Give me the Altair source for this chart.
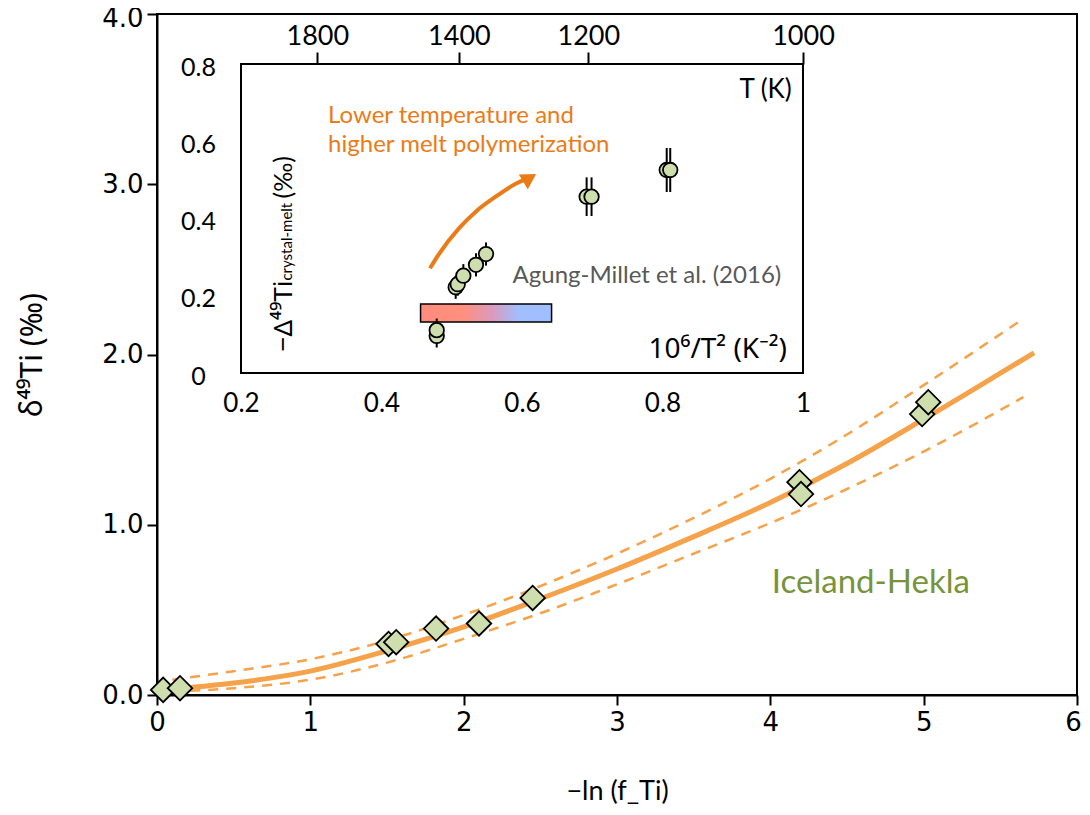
import altair as alt
import pandas as pd

# ---------------- main panel data (Iceland-Hekla) ----------------
hekla_x = [0.04, 0.15, 1.51, 1.56, 1.82, 2.10, 2.45, 4.19, 4.20, 4.99, 5.03]
hekla_y = [0.03, 0.04, 0.30, 0.31, 0.39, 0.42, 0.57, 1.25, 1.18, 1.65, 1.72]

fit_x = [0.04, 0.5, 1.0, 1.5, 2.0, 2.5, 3.0, 3.5, 4.0, 4.5, 5.0, 5.5, 5.72]
fit_y = [0.03, 0.07, 0.14, 0.26, 0.40, 0.565, 0.74, 0.93, 1.13, 1.36, 1.62, 1.89, 2.01]

upper_x = [0.1, 0.5, 1.0, 1.5, 2.0, 2.5, 3.0, 3.5, 4.0, 4.5, 5.0, 5.65]
upper_y = [0.09, 0.14, 0.21, 0.32, 0.47, 0.64, 0.83, 1.04, 1.27, 1.53, 1.82, 2.21]

lower_x = [0.1, 0.5, 1.0, 1.5, 2.0, 2.5, 3.0, 3.5, 4.0, 4.5, 5.0, 5.65]
lower_y = [0.02, 0.04, 0.09, 0.19, 0.33, 0.48, 0.65, 0.83, 1.01, 1.21, 1.43, 1.75]

main_x_ticks = [0, 1, 2, 3, 4, 5, 6]
main_y_ticks = [0.0, 1.0, 2.0, 3.0, 4.0]

# ---------------- inset data (Agung-Millet et al. 2016) ----------------
amt_x = [0.4786, 0.4786, 0.5056, 0.5085, 0.5165, 0.5345, 0.5488, 0.692, 0.699, 0.806, 0.811]
amt_y = [0.096, 0.111, 0.222, 0.230, 0.252, 0.280, 0.308, 0.4565, 0.4565, 0.5256, 0.5256]
amt_err = [0.03, 0.03, 0.03, 0.03, 0.03, 0.03, 0.03, 0.05, 0.05, 0.057, 0.057]

arrow_x = [0.469, 0.481, 0.5105, 0.535, 0.563, 0.591, 0.603]
arrow_y = [0.271, 0.306, 0.375, 0.419, 0.457, 0.490, 0.500]
arrow_tip_x = [0.611]
arrow_tip_y = [0.505]

bar_x = [0.4556, 0.6421]
bar_y = [0.1321, 0.1786]

inset_x_domain = [0.2, 1.0]
inset_y_domain = [0.0, 0.8]
inset_x_ticks = [0.2, 0.4, 0.6, 0.8, 1.0]
inset_y_ticks = [0.0, 0.2, 0.4, 0.6, 0.8]
temp_ticks_K = [1800, 1400, 1200, 1000]

# ---------------- layout constants ----------------
W, H = 920, 681
INSET_XR = [84, 646]
INSET_YR = [359, 50]

CAL = "Lato"
NOTO = "Noto Sans"
VER = "DejaVu Sans"
ORANGE_FIT = "#F5A24A"
ORANGE_TXT = "#EB7B17"
GREEN_FILL = "#CFDEAD"

# ---------------- main layer ----------------
xs_main = alt.Scale(domain=[0, 6], nice=False, zero=False)
ys_main = alt.Scale(domain=[0, 4], nice=False, zero=False)

x_main_axis = alt.Axis(values=main_x_ticks, format="d", title="\u2212ln (f_Ti)",
                       titleFont=CAL, titleFontSize=27, titleFontWeight="normal",
                       titleX=W / 2, titleY=96, titleBaseline="middle", titleAlign="center",
                       labelFont=VER, labelFontSize=26, labelPadding=4, labelFlush=False,
                       labelOffset={"condition": {"test": "datum.value == 6", "value": -4}, "value": 0},
                       tickSize=10, tickWidth=2, tickColor="black", domainColor="black",
                       domainWidth=2, grid=False, labelColor="black", titleColor="black")
y_main_axis = alt.Axis(values=main_y_ticks, format=".1f", title="\u03b4\u2074\u2079Ti (\u2030)",
                       titleFont=NOTO, titleFontSize=30, titleFontWeight="normal",
                       titleX=-125, titleY=H / 2, titleBaseline="middle", titleAlign="center",
                       titleAngle=270,
                       labelFont=VER, labelFontSize=26, labelPadding=4,
                       labelOffset={"condition": {"test": "datum.value == 4", "value": 4}, "value": 0},
                       tickSize=10, tickWidth=2, tickColor="black", domainColor="black",
                       domainWidth=2, grid=False, labelColor="black", titleColor="black")

fit_df = pd.DataFrame({"x": fit_x, "y": fit_y})
up_df = pd.DataFrame({"x": upper_x, "y": upper_y})
lo_df = pd.DataFrame({"x": lower_x, "y": lower_y})
hk_df = pd.DataFrame({"x": hekla_x, "y": hekla_y})

base_main_enc = dict(x=alt.X("x:Q", scale=xs_main, axis=x_main_axis),
                     y=alt.Y("y:Q", scale=ys_main, axis=y_main_axis))

fit_line = alt.Chart(fit_df).mark_line(color=ORANGE_FIT, strokeWidth=5, interpolate="monotone").encode(**base_main_enc)
up_line = alt.Chart(up_df).mark_line(color=ORANGE_FIT, strokeWidth=2.5, strokeDash=[10, 8], interpolate="monotone").encode(**base_main_enc)
lo_line = alt.Chart(lo_df).mark_line(color=ORANGE_FIT, strokeWidth=2.5, strokeDash=[10, 8], interpolate="monotone").encode(**base_main_enc)
diamonds = alt.Chart(hk_df).mark_point(shape="diamond", size=600, filled=True, fill=GREEN_FILL,
                                       stroke="black", strokeWidth=1.8, opacity=1).encode(**base_main_enc)
iceland = alt.Chart(pd.DataFrame({"x": [4.01], "y": [0.658], "t": ["Iceland-Hekla"]})).mark_text(
    font=CAL, fontSize=33, color="#77933C", align="left", baseline="middle").encode(
    x=alt.X("x:Q", scale=xs_main), y=alt.Y("y:Q", scale=ys_main), text="t:N")

main_layer = alt.layer(fit_line, up_line, lo_line, diamonds, iceland)

# ---------------- inset box + top temperature axis ----------------
temp_vals = [1e6 / (t * t) for t in temp_ticks_K]
xs_top = alt.Scale(domain=inset_x_domain, range=INSET_XR, nice=False, zero=False)
ys_box = alt.Scale(domain=inset_y_domain, range=INSET_YR, nice=False, zero=False)
box_df = pd.DataFrame({"x0": [inset_x_domain[0]], "x1": [inset_x_domain[1]],
                       "y0": [inset_y_domain[0]], "y1": [inset_y_domain[1]]})
box = alt.Chart(box_df).mark_rect(fill="white", stroke="black", strokeWidth=2).encode(
    x=alt.X("x0:Q", scale=xs_top, axis=alt.Axis(
        orient="top", offset=-INSET_YR[1], values=temp_vals,
        labelExpr="format(round(1000/sqrt(datum.value)), 'd')", labelFlush=False,
        domain=False, tickSize=12, tickWidth=2, tickColor="black", labelFont=CAL,
        labelFontSize=27, labelColor="black", labelPadding=2, title=None, grid=False)),
    x2="x1:Q",
    y=alt.Y("y0:Q", scale=ys_box, axis=None),
    y2="y1:Q")

# ---------------- inset data layer ----------------
xs_in = alt.Scale(domain=inset_x_domain, range=INSET_XR, nice=False, zero=False)
ys_in = alt.Scale(domain=inset_y_domain, range=INSET_YR, nice=False, zero=False)
x_in_axis = alt.Axis(orient="bottom", offset=-(H - INSET_YR[0]), values=inset_x_ticks, format=".1~f",
                     domain=False, ticks=False, labelFont=CAL, labelFontSize=26, labelColor="black",
                     labelPadding=17, labelFlush=False, title=None, grid=False)
y_in_axis = alt.Axis(orient="left", offset=-INSET_XR[0], values=inset_y_ticks, format=".1~f",
                     domain=False, ticks=False, labelFont=CAL, labelFontSize=25, labelColor="black",
                     labelPadding=43, labelAlign="center", labelOffset=3, title=None, grid=False)

amt_df = pd.DataFrame({"x": amt_x, "y": amt_y, "lo": [a - e for a, e in zip(amt_y, amt_err)],
                       "hi": [a + e for a, e in zip(amt_y, amt_err)]})

xin = alt.X("x:Q", scale=xs_in, axis=x_in_axis)
yin = alt.Y("y:Q", scale=ys_in, axis=y_in_axis)

bar_df = pd.DataFrame({"x0": [bar_x[0]], "x1": [bar_x[1]], "y0": [bar_y[0]], "y1": [bar_y[1]]})
grad = alt.Gradient(gradient="linear", x1=0, x2=1, y1=0, y2=0, stops=[
    alt.GradientStop(offset=0, color="#FF8C7C"),
    alt.GradientStop(offset=0.33, color="#FF8F7E"),
    alt.GradientStop(offset=0.55, color="#D99BBE"),
    alt.GradientStop(offset=0.75, color="#A2BEFE"),
    alt.GradientStop(offset=1, color="#9FBFFF")])
colorbar = alt.Chart(bar_df).mark_rect(fill=grad, stroke="black", strokeWidth=1.5).encode(
    x=alt.X("x0:Q", scale=xs_in, axis=x_in_axis), x2="x1:Q",
    y=alt.Y("y0:Q", scale=ys_in, axis=y_in_axis), y2="y1:Q")

errbars = alt.Chart(amt_df).mark_rule(color="black", strokeWidth=2).encode(
    x=xin, y=alt.Y("lo:Q", scale=ys_in, axis=y_in_axis), y2="hi:Q")
circles = alt.Chart(amt_df).mark_point(shape="circle", size=210, filled=True, fill=GREEN_FILL,
                                       stroke="black", strokeWidth=1.8, opacity=1).encode(x=xin, y=yin)

arrow_df = pd.DataFrame({"x": arrow_x, "y": arrow_y, "o": list(range(len(arrow_x)))})
arrow = alt.Chart(arrow_df).mark_line(color=ORANGE_TXT, strokeWidth=4, interpolate="monotone").encode(
    x=xin, y=yin, order="o:Q")
tip = alt.Chart(pd.DataFrame({"x": arrow_tip_x, "y": arrow_tip_y})).mark_point(
    shape="triangle-up", size=300, filled=True, color=ORANGE_TXT, opacity=1, angle=59).encode(x=xin, y=yin)


def itext(x, y, t, **kw):
    return alt.Chart(pd.DataFrame({"x": [x], "y": [y], "t": [t]})).mark_text(**kw).encode(
        x=alt.X("x:Q", scale=xs_in), y=alt.Y("y:Q", scale=ys_in), text="t:N")


t_k = itext(0.984, 0.733, "T (K)", font=CAL, fontSize=26, color="black", align="right", baseline="middle")
t_low1 = itext(0.324, 0.665, "Lower temperature and", font=CAL, fontSize=24, color=ORANGE_TXT,
               align="left", baseline="middle")
t_low2 = itext(0.324, 0.590, "higher melt polymerization", font=CAL, fontSize=24, color=ORANGE_TXT,
               align="left", baseline="middle")
t_ref = itext(0.969, 0.251, "Agung-Millet et al. (2016)", font=CAL, fontSize=24, color="#595959",
              align="right", baseline="middle")
t_xl = itext(0.977, 0.060, "10\u2076/T\u00b2 (K\u207b\u00b2)", font=NOTO, fontSize=28, color="black",
             align="right", baseline="middle")

# rotated inset y title, assembled from pieces (main text + subscript)
t_y1 = itext(0.2612, 0.1476, "\u2212\u0394\u2074\u2079Ti", font=NOTO, fontSize=26, color="black",
             align="center", baseline="middle", angle=270)
t_y2 = itext(0.2650, 0.340, "crystal-melt", font=CAL, fontSize=15, color="black",
             align="center", baseline="middle", angle=270)
t_y3 = itext(0.2612, 0.507, "(\u2030)", font=CAL, fontSize=25, color="black",
             align="center", baseline="middle", angle=270)

inset_layer = alt.layer(colorbar, errbars, circles, arrow, tip, t_k, t_low1, t_low2, t_ref, t_xl,
                        t_y1, t_y2, t_y3)

chart = alt.layer(main_layer, box, inset_layer).resolve_scale(
    x="independent", y="independent").properties(
    width=W, height=H,
    padding={"left": 149, "top": 6, "right": 5, "bottom": 112},
    autosize=alt.AutoSizeParams(type="none"),
    background="white").configure_view(stroke="black", strokeWidth=2)

chart.save("out.html", embed_options={"renderer": "svg", "actions": False})
